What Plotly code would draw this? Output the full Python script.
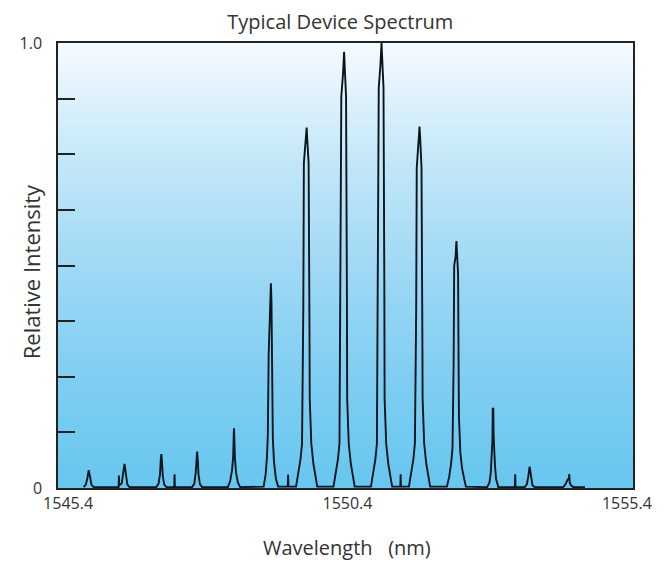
import numpy as np
import plotly.graph_objects as go

# ---- data ----
wavelength_nm = [
    # peak 1
    1545.68, 1545.72, 1545.745, 1545.76, 1545.77, 1545.78, 1545.795, 1545.82, 1545.86,
    # peak 2 (with small shoulder spike)
    1546.305, 1546.31, 1546.315, 1546.36, 1546.385, 1546.40, 1546.41, 1546.42, 1546.435, 1546.46, 1546.50,
    # peak 3
    1546.98, 1547.02, 1547.045, 1547.06, 1547.07, 1547.08, 1547.095, 1547.12, 1547.16,
    # spike
    1547.30, 1547.306, 1547.312,
    # peak 4
    1547.62, 1547.66, 1547.685, 1547.70, 1547.71, 1547.72, 1547.735, 1547.76, 1547.80,
    # peak 5
    1548.26, 1548.30, 1548.335, 1548.355, 1548.365, 1548.37, 1548.375, 1548.385, 1548.405, 1548.44, 1548.48,
    # peak 6
    1548.90, 1548.935, 1548.96, 1548.975, 1548.99, 1549.005, 1549.02, 1549.03, 1549.04, 1549.05,
    1549.065, 1549.085, 1549.12, 1549.16,
    # spike
    1549.332, 1549.338, 1549.344,
    # peak 7
    1549.48, 1549.52, 1549.56, 1549.587, 1549.61, 1549.62, 1549.65, 1549.662, 1549.67, 1549.68,
    1549.705, 1549.72, 1549.725, 1549.753, 1549.79, 1549.83, 1549.86,
    # peak 8
    1550.15, 1550.19, 1550.23, 1550.257, 1550.28, 1550.29, 1550.32, 1550.332, 1550.34, 1550.35,
    1550.375, 1550.39, 1550.395, 1550.423, 1550.46, 1550.50, 1550.53,
    # peak 9
    1550.82, 1550.86, 1550.90, 1550.927, 1550.95, 1550.96, 1550.99, 1551.002, 1551.01, 1551.02,
    1551.045, 1551.06, 1551.065, 1551.093, 1551.13, 1551.17, 1551.20,
    # spike
    1551.346, 1551.352, 1551.358,
    # peak 10
    1551.50, 1551.54, 1551.58, 1551.607, 1551.63, 1551.64, 1551.67, 1551.682, 1551.69, 1551.70,
    1551.725, 1551.74, 1551.745, 1551.773, 1551.81, 1551.85, 1551.88,
    # peak 11
    1552.18, 1552.22, 1552.255, 1552.28, 1552.30, 1552.31, 1552.335, 1552.345, 1552.35, 1552.36,
    1552.38, 1552.39, 1552.395, 1552.42, 1552.45, 1552.49, 1552.52,
    # peak 12
    1552.90, 1552.94, 1552.965, 1552.985, 1552.995, 1553.00, 1553.01, 1553.015, 1553.025, 1553.04,
    1553.06, 1553.10,
    # spike
    1553.396, 1553.402, 1553.408,
    # peak 13
    1553.57, 1553.61, 1553.635, 1553.65, 1553.66, 1553.67, 1553.685, 1553.71, 1553.75,
    # peak 14 and tail
    1554.26, 1554.30, 1554.33, 1554.345, 1554.36, 1554.37, 1554.378, 1554.40, 1554.44, 1554.65,
]

relative_intensity = [
    # peak 1
    0.002, 0.008, 0.022, 0.036, 0.040, 0.034, 0.020, 0.007, 0.002,
    # peak 2
    0.002, 0.028, 0.006, 0.010, 0.030, 0.050, 0.054, 0.045, 0.025, 0.008, 0.002,
    # peak 3
    0.002, 0.010, 0.030, 0.065, 0.076, 0.060, 0.028, 0.008, 0.002,
    # spike
    0.002, 0.031, 0.002,
    # peak 4
    0.002, 0.010, 0.035, 0.070, 0.082, 0.065, 0.030, 0.008, 0.002,
    # peak 5
    0.002, 0.015, 0.040, 0.070, 0.120, 0.134, 0.115, 0.070, 0.035, 0.012, 0.002,
    # peak 6
    0.003, 0.030, 0.070, 0.120, 0.300, 0.385, 0.440, 0.460, 0.420, 0.240,
    0.110, 0.060, 0.020, 0.003,
    # spike
    0.003, 0.030, 0.003,
    # peak 7
    0.003, 0.030, 0.065, 0.100, 0.405, 0.730, 0.770, 0.800, 0.810, 0.785,
    0.730, 0.365, 0.200, 0.100, 0.055, 0.025, 0.003,
    # peak 8
    0.003, 0.030, 0.065, 0.100, 0.490, 0.880, 0.930, 0.970, 0.980, 0.950,
    0.880, 0.440, 0.200, 0.100, 0.055, 0.025, 0.003,
    # peak 9
    0.003, 0.030, 0.065, 0.100, 0.500, 0.900, 0.950, 0.990, 1.000, 0.970,
    0.900, 0.450, 0.200, 0.100, 0.055, 0.025, 0.003,
    # spike
    0.003, 0.031, 0.003,
    # peak 10
    0.003, 0.030, 0.065, 0.100, 0.400, 0.720, 0.780, 0.800, 0.812, 0.790,
    0.720, 0.360, 0.200, 0.100, 0.055, 0.025, 0.003,
    # peak 11
    0.003, 0.025, 0.055, 0.090, 0.280, 0.500, 0.520, 0.545, 0.555, 0.530,
    0.480, 0.250, 0.160, 0.080, 0.045, 0.020, 0.003,
    # peak 12
    0.002, 0.012, 0.034, 0.070, 0.110, 0.178, 0.178, 0.120, 0.085, 0.050,
    0.020, 0.002,
    # spike
    0.002, 0.031, 0.002,
    # peak 13
    0.002, 0.008, 0.025, 0.042, 0.048, 0.040, 0.022, 0.006, 0.002,
    # peak 14 and tail
    0.002, 0.008, 0.018, 0.020, 0.020, 0.031, 0.012, 0.006, 0.002, 0.002,
]

x_tick_values = [1545.4, 1550.4, 1555.4]
x_tick_labels = ["1545.4", "1550.4", "1555.4"]
y_tick_values = [0, 0.125, 0.25, 0.375, 0.5, 0.625, 0.75, 0.875, 1.0]
y_tick_labels = ["0", "", "", "", "", "", "", "", "1.0"]

FONT = "Open Sans"
TXT = "#333333"

fig = go.Figure()
fig.add_trace(go.Scatter(
    x=wavelength_nm, y=relative_intensity, mode="lines",
    line=dict(color="#0b151d", width=1.9), hoverinfo="skip", showlegend=False,
))

# vertical white -> sky-blue gradient behind the plot area (style only)
stops_pos = [0.0, 0.25, 0.5, 0.75, 1.0]          # 0 = top, 1 = bottom
stops_rgb = [(246, 251, 255), (198, 232, 249), (160, 217, 245), (128, 206, 242), (104, 198, 239)]
n_bands = 150
shapes = []
for i in range(n_bands):
    t = (i + 0.5) / n_bands
    rgb = [int(round(np.interp(t, stops_pos, [c[k] for c in stops_rgb]))) for k in range(3)]
    y_top = 1 - i / n_bands
    y_bot = 1 - (i + 1) / n_bands
    shapes.append(dict(type="rect", xref="paper", yref="paper", x0=0, x1=1,
                       y0=y_bot - 0.001, y1=y_top + 0.001, layer="below",
                       line=dict(width=0), fillcolor=f"rgb({rgb[0]},{rgb[1]},{rgb[2]})"))

fig.update_layout(
    width=670, height=564,
    margin=dict(l=48, r=45, t=35, b=84),
    paper_bgcolor="white", plot_bgcolor="white",
    shapes=shapes,
    font=dict(family=FONT, color=TXT),
    title=dict(text="Typical Device Spectrum", x=0.496, xanchor="center",
               y=1 - 14 / 564, yanchor="middle", yref="container",
               font=dict(size=20, family=FONT, color=TXT)),
    xaxis=dict(range=[1545.22, 1555.51], tickvals=x_tick_values, ticktext=x_tick_labels,
               ticks="", showgrid=False, zeroline=False, showline=True, linecolor="#222222",
               linewidth=1.5, mirror=True, tickfont=dict(size=16, color=TXT)),
    yaxis=dict(range=[0, 1.0], tickvals=y_tick_values, ticktext=y_tick_labels,
               ticks="inside", ticklen=17, tickwidth=1.5, tickcolor="#222222",
               ticklabelstandoff=11,
               showgrid=False, zeroline=False, showline=True, linecolor="#222222",
               linewidth=1.5, mirror=True, tickfont=dict(size=16, color=TXT)),
    annotations=[
        dict(text="Relative Intensity", textangle=-90, xref="paper", yref="paper",
             x=-0.0468, y=0.485, xanchor="center", yanchor="middle", showarrow=False,
             font=dict(size=22, family=FONT, color=TXT)),
        dict(text="Wavelength&nbsp;&nbsp;&nbsp;(nm)", xref="paper", yref="paper",
             x=0.5026, y=-0.1348, xanchor="center", yanchor="middle", showarrow=False,
             font=dict(size=20, family=FONT, color=TXT)),
    ],
)

fig.write_html("out.html")
